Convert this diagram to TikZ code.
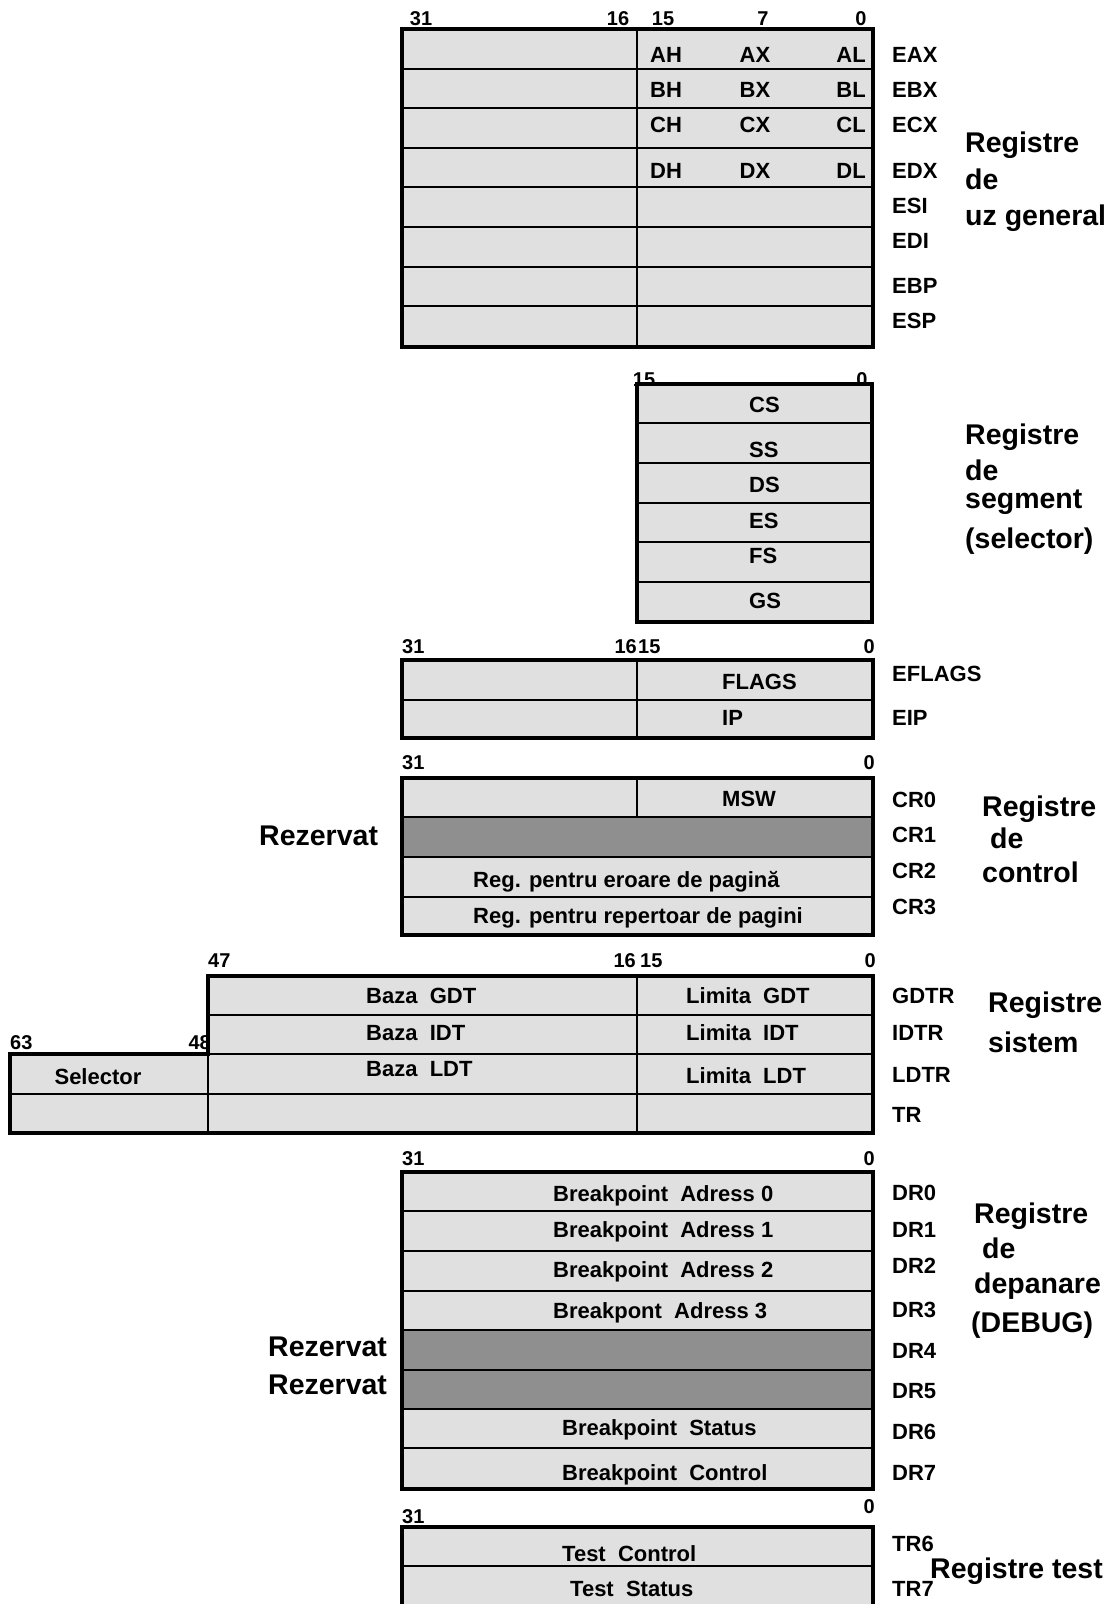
\documentclass[tikz,border=0pt]{standalone}
\usepackage{fontspec}
\setmainfont{Liberation Sans}
\definecolor{regfill}{HTML}{E0E0E0}
\definecolor{rsvfill}{HTML}{8F8F8F}
\begin{document}
\begin{tikzpicture}[x=1pt,y=-1pt,
  sm/.style={font=\fontsize{22}{26}\selectfont\bfseries, inner sep=0pt},
  hd/.style={font=\fontsize{20}{24}\selectfont\bfseries, inner sep=0pt},
  bg/.style={font=\fontsize{28.5}{34}\selectfont\bfseries, inner sep=0pt},
  frame/.style={line width=4.5pt},
  sepline/.style={line width=2.2pt},
  lite/.style={fill=regfill},
  rsv/.style={fill=rsvfill, draw=black, line width=1.6pt}]
\useasboundingbox (0,0) rectangle (1114,1604);

% ---------- general purpose ----------
\fill[lite] (402,29) rectangle (873,347);
\foreach \y in {69,108,148,187,227,267,306} \draw[sepline] (402,\y) -- (873,\y);
\draw[sepline] (637,29) -- (637,347);
\draw[frame] (402,29) rectangle (873,347);
\node[hd,anchor=base] (g31) at (421,25) {31};
\node[hd,anchor=base] (g16) at (618,25) {16};
\node[hd,anchor=base] (g15) at (663,25) {15};
\node[hd,anchor=base] (g7) at (763,25) {7};
\node[hd,anchor=base] (g0) at (861,25) {0};
\node[sm,anchor=base] (ah) at (666,62) {AH};
\node[sm,anchor=base] (ax) at (755,62) {AX};
\node[sm,anchor=base east] (al) at (866,62) {AL};
\node[sm,anchor=base] (bh) at (666,97) {BH};
\node[sm,anchor=base] (bx) at (755,97) {BX};
\node[sm,anchor=base east] (bl) at (866,97) {BL};
\node[sm,anchor=base] (ch) at (666,132) {CH};
\node[sm,anchor=base] (cx) at (755,132) {CX};
\node[sm,anchor=base east] (cl) at (866,132) {CL};
\node[sm,anchor=base] (dh) at (666,178) {DH};
\node[sm,anchor=base] (dx) at (755,178) {DX};
\node[sm,anchor=base east] (dl) at (866,178) {DL};
\node[sm,anchor=base west] (eax) at (892,62) {EAX};
\node[sm,anchor=base west] (ebx) at (892,97) {EBX};
\node[sm,anchor=base west] (ecx) at (892,132) {ECX};
\node[sm,anchor=base west] (edx) at (892,178) {EDX};
\node[sm,anchor=base west] (esi) at (892,213) {ESI};
\node[sm,anchor=base west] (edi) at (892,248) {EDI};
\node[sm,anchor=base west] (ebp) at (892,293) {EBP};
\node[sm,anchor=base west] (esp) at (892,328) {ESP};
\node[bg,anchor=base west] (gt1) at (965,152) {Registre};
\node[bg,anchor=base west] (gt2) at (965,189) {de};
\node[bg,anchor=base west] (gt3) at (965,225) {uz general};

% ---------- segment ----------
\node[hd,anchor=base] (s15) at (644,386) {15};
\node[hd,anchor=base] (s0) at (862,386) {0};
\fill[lite] (637,384) rectangle (872,622);
\foreach \y in {423,463,503,542,582} \draw[sepline] (637,\y) -- (872,\y);
\draw[frame] (637,384) rectangle (872,622);
\node[sm,anchor=base west] (cs) at (749,412) {CS};
\node[sm,anchor=base west] (ss) at (749,457) {SS};
\node[sm,anchor=base west] (ds) at (749,492) {DS};
\node[sm,anchor=base west] (es) at (749,528) {ES};
\node[sm,anchor=base west] (fs) at (749,563) {FS};
\node[sm,anchor=base west] (gs) at (749,608) {GS};
\node[bg,anchor=base west] (st1) at (965,444) {Registre};
\node[bg,anchor=base west] (st2) at (965,480) {de};
\node[bg,anchor=base west] (st3) at (965,508) {segment};
\node[bg,anchor=base west] (st4) at (965,548) {(selector)};

% ---------- EFLAGS / EIP ----------
\fill[lite] (402,660) rectangle (873,738);
\draw[sepline] (402,700) -- (873,700);
\draw[sepline] (637,660) -- (637,738);
\draw[frame] (402,660) rectangle (873,738);
\node[hd,anchor=base west] (f31) at (402,653) {31};
\node[hd,anchor=base east] (f16) at (637,653) {16};
\node[hd,anchor=base west] (f15) at (638,653) {15};
\node[hd,anchor=base east] (f0) at (875,653) {0};
\node[sm,anchor=base west] (flags) at (722,689) {FLAGS};
\node[sm,anchor=base west] (ip) at (722,725) {IP};
\node[sm,anchor=base west] (eflags) at (892,681) {EFLAGS};
\node[sm,anchor=base west] (eip) at (892,725) {EIP};

% ---------- control ----------
\fill[lite] (402,778) rectangle (873,935);
\draw[rsv] (402,817) rectangle (873,857);
\draw[sepline] (402,897) -- (873,897);
\draw[sepline] (637,778) -- (637,817);
\draw[frame] (402,778) rectangle (873,935);
\node[hd,anchor=base west] (c31) at (402,769) {31};
\node[hd,anchor=base east] (c0) at (875,769) {0};
\node[sm,anchor=base west] (msw) at (722,806) {MSW};
\node[sm,anchor=base west] (cr2t) at (473,887) {Reg. pentru eroare de pagină};
\node[sm,anchor=base west] (cr3t) at (473,923) {Reg. pentru repertoar de pagini};
\node[sm,anchor=base west] (cr0) at (892,807) {CR0};
\node[sm,anchor=base west] (cr1) at (892,842) {CR1};
\node[sm,anchor=base west] (cr2) at (892,878) {CR2};
\node[sm,anchor=base west] (cr3) at (892,914) {CR3};
\node[bg,anchor=base west] (ct1) at (982,816) {Registre};
\node[bg,anchor=base west] (ct2) at (990,848) {de};
\node[bg,anchor=base west] (ct3) at (982,882) {control};
\node[bg,anchor=base west] (rz1) at (259,845) {Rezervat};

% ---------- system ----------
\node[hd,anchor=base west] (y47) at (208,967) {47};
\node[hd,anchor=base east] (y16) at (636,967) {16};
\node[hd,anchor=base west] (y15) at (640,967) {15};
\node[hd,anchor=base east] (y0) at (876,967) {0};
\node[hd,anchor=base west] (y63) at (10,1049) {63};
\node[hd,anchor=base east] (y48) at (211,1049) {48};
\fill[lite] (208,976) -- (873,976) -- (873,1133) -- (10,1133) -- (10,1054) -- (208,1054) -- cycle;
\draw[sepline] (208,1015) -- (873,1015);
\draw[sepline] (208,1054) -- (873,1054);
\draw[sepline] (10,1094) -- (873,1094);
\draw[sepline] (208,1054) -- (208,1133);
\draw[sepline] (637,976) -- (637,1133);
\draw[frame] (208,976) -- (873,976) -- (873,1133) -- (10,1133) -- (10,1054) -- (208,1054) -- cycle;
\node[sm,anchor=base west] (bgdt) at (366,1003) {Baza~~GDT};
\node[sm,anchor=base west] (bidt) at (366,1040) {Baza~~IDT};
\node[sm,anchor=base west] (bldt) at (366,1076) {Baza~~LDT};
\node[sm,anchor=base west] (lgdt) at (686,1003) {Limita~~GDT};
\node[sm,anchor=base west] (lidt) at (686,1040) {Limita~~IDT};
\node[sm,anchor=base west] (lldt) at (686,1083) {Limita~~LDT};
\node[sm,anchor=base] (sel) at (98,1084) {Selector};
\node[sm,anchor=base west] (gdtr) at (892,1003) {GDTR};
\node[sm,anchor=base west] (idtr) at (892,1040) {IDTR};
\node[sm,anchor=base west] (ldtr) at (892,1082) {LDTR};
\node[sm,anchor=base west] (tr) at (892,1122) {TR};
\node[bg,anchor=base west] (yt1) at (988,1012) {Registre};
\node[bg,anchor=base west] (yt2) at (988,1052) {sistem};

% ---------- debug ----------
\fill[lite] (402,1172) rectangle (873,1489);
\draw[rsv] (402,1330) rectangle (873,1370);
\draw[rsv] (402,1370) rectangle (873,1409);
\foreach \y in {1211,1251,1291,1330,1409,1448} \draw[sepline] (402,\y) -- (873,\y);
\draw[frame] (402,1172) rectangle (873,1489);
\node[hd,anchor=base west] (d31) at (402,1165) {31};
\node[hd,anchor=base east] (d0) at (875,1165) {0};
\node[sm,anchor=base west] (ba0) at (553,1201) {Breakpoint~~Adress 0};
\node[sm,anchor=base west] (ba1) at (553,1237) {Breakpoint~~Adress 1};
\node[sm,anchor=base west] (ba2) at (553,1277) {Breakpoint~~Adress 2};
\node[sm,anchor=base west] (ba3) at (553,1318) {Breakpont~~Adress 3};
\node[sm,anchor=base west] (bst) at (562,1435) {Breakpoint~~Status};
\node[sm,anchor=base west] (bct) at (562,1480) {Breakpoint~~Control};
\node[bg,anchor=base west] (rz2) at (268,1356) {Rezervat};
\node[bg,anchor=base west] (rz3) at (268,1394) {Rezervat};
\node[sm,anchor=base west] (dr0) at (892,1200) {DR0};
\node[sm,anchor=base west] (dr1) at (892,1237) {DR1};
\node[sm,anchor=base west] (dr2) at (892,1273) {DR2};
\node[sm,anchor=base west] (dr3) at (892,1317) {DR3};
\node[sm,anchor=base west] (dr4) at (892,1358) {DR4};
\node[sm,anchor=base west] (dr5) at (892,1398) {DR5};
\node[sm,anchor=base west] (dr6) at (892,1439) {DR6};
\node[sm,anchor=base west] (dr7) at (892,1480) {DR7};
\node[bg,anchor=base west] (dt1) at (974,1223) {Registre};
\node[bg,anchor=base west] (dt2) at (982,1258) {de};
\node[bg,anchor=base west] (dt3) at (974,1293) {depanare};
\node[bg,anchor=base west] (dt4) at (971,1332) {(DEBUG)};

% ---------- test ----------
\node[hd,anchor=base west] (t31) at (402,1523) {31};
\node[hd,anchor=base east] (t0) at (875,1513) {0};
\begin{scope}
\clip (0,0) rectangle (1114,1604);
\fill[lite] (402,1527) rectangle (873,1620);
\draw[sepline] (402,1566) -- (873,1566);
\draw[frame] (402,1527) rectangle (873,1620);
\end{scope}
\node[sm,anchor=base west] (tc) at (562,1561) {Test~~Control};
\node[sm,anchor=base west] (ts) at (570,1596) {Test~~Status};
\node[sm,anchor=base west] (tr6) at (892,1551) {TR6};
\node[sm,anchor=base west] (tr7) at (892,1596) {TR7};
\node[bg,anchor=base west] (tt) at (930,1578) {Registre test};
\end{tikzpicture}
\end{document}
